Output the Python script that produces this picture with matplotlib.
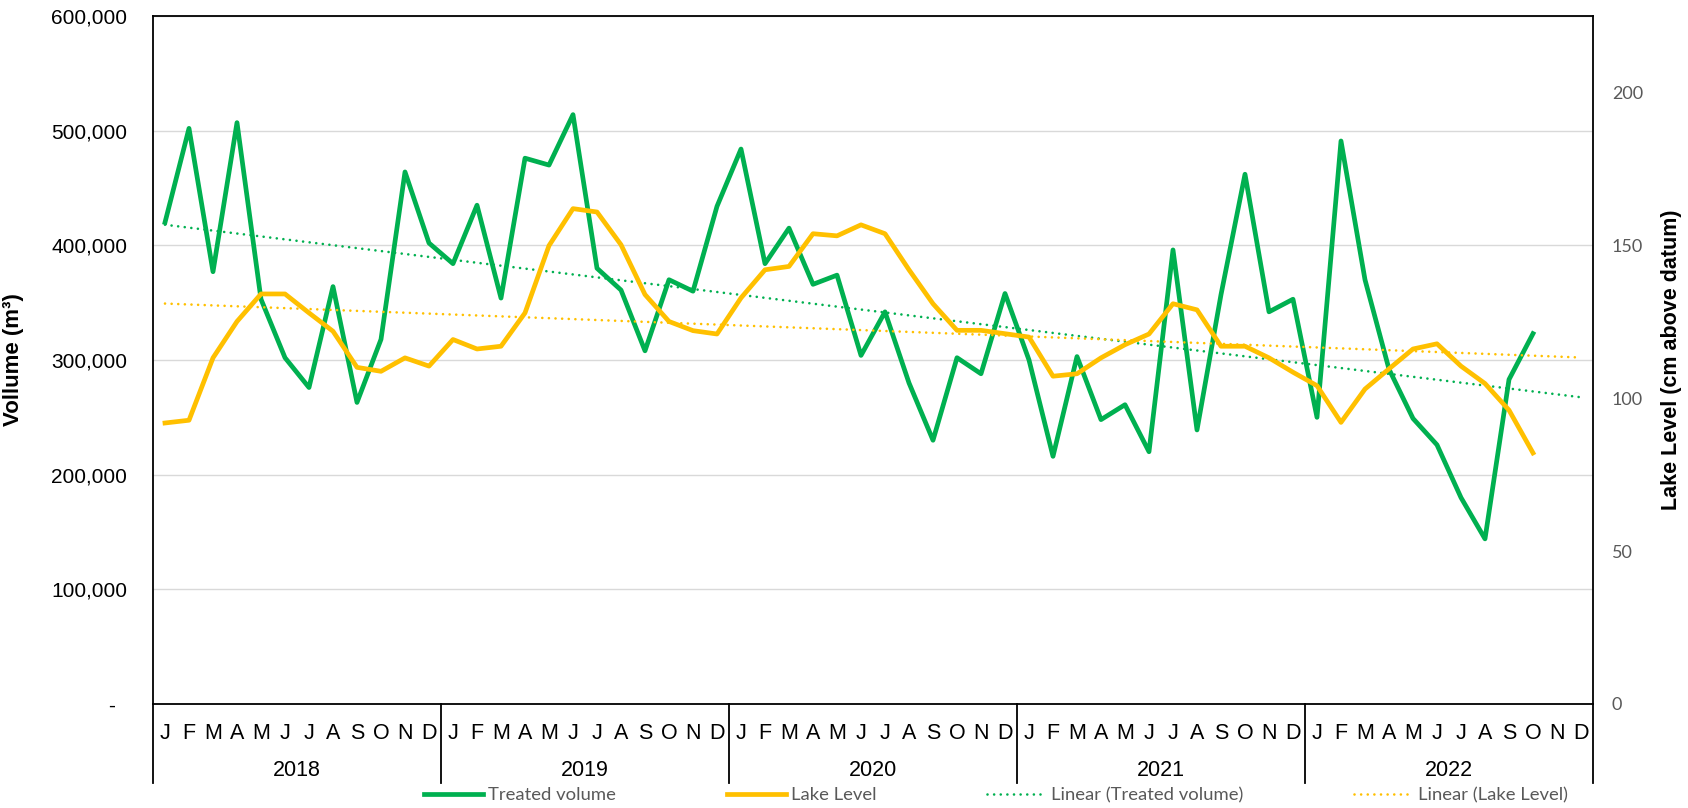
import numpy as np
import matplotlib.pyplot as plt
import matplotlib.transforms as mtransforms
from matplotlib.ticker import FuncFormatter
from matplotlib.lines import Line2D

# ---------- Data (Jan 2018 - Oct 2022) ----------
months = ["J", "F", "M", "A", "M", "J", "J", "A", "S", "O", "N", "D"]
years = ["2018", "2019", "2020", "2021", "2022"]

treated_volume = [
    420000, 502000, 377000, 507000, 353000, 302000, 276000, 364000, 263000, 318000, 464000, 402000,
    384000, 435000, 354000, 476000, 470000, 514000, 380000, 361000, 308000, 370000, 360000, 434000,
    484000, 384000, 415000, 366000, 374000, 304000, 342000, 280000, 230000, 302000, 288000, 358000,
    300000, 216000, 303000, 248000, 261000, 220000, 396000, 239000, 357000, 462000, 342000, 353000,
    250000, 491000, 370000, 292000, 249000, 226000, 180000, 144000, 283000, 323000,
]
lake_level = [
    91.9, 92.8, 113.2, 125.1, 134.1, 134.1, 127.9, 121.9, 110.1, 108.8, 113.2, 110.5,
    119.2, 116.1, 117.0, 127.9, 149.9, 162.0, 160.9, 150.2, 133.9, 125.1, 122.1, 121.0,
    132.8, 142.0, 143.1, 153.8, 153.1, 156.7, 153.8, 142.0, 130.9, 122.2, 122.2, 121.1,
    120.0, 107.2, 108.0, 113.2, 117.5, 121.0, 130.9, 128.9, 117.0, 117.0, 113.2, 108.5,
    104.1, 92.1, 103.0, 109.6, 116.1, 117.8, 110.5, 104.8, 96.1, 82.1,
]

GREEN = "#00B050"
YELLOW = "#FFC000"
GRAY = "#595959"

plt.rcParams["font.family"] = ["Liberation Sans", "DejaVu Sans"]

n_cat = len(months) * len(years)
x_all = np.arange(n_cat)
x_vol = np.arange(len(treated_volume))
x_lake = np.arange(len(lake_level))

# linear trend lines (like Excel's "Linear" trendline)
tv_fit = np.polyfit(x_vol, treated_volume, 1)
ll_fit = np.polyfit(x_lake, lake_level, 1)

fig = plt.figure(figsize=(16.88, 8.08), dpi=100)
ax = fig.add_axes([153 / 1688, 1 - 704 / 808, 1440 / 1688, 688 / 808])
ax2 = ax.twinx()

dot = (0, (0.01, 2.5))
ax.plot(x_vol, treated_volume, color=GREEN, lw=3.4, zorder=3)
ax.plot(x_all, np.polyval(tv_fit, x_all), color=GREEN, lw=1.9, linestyle=dot,
        dash_capstyle="round", zorder=2)
ax2.plot(x_lake, lake_level, color=YELLOW, lw=3.4, zorder=3)
ax2.plot(x_all, np.polyval(ll_fit, x_all), color=YELLOW, lw=1.9, linestyle=dot,
         dash_capstyle="round", zorder=2)

# ---------- primary axis ----------
ax.set_xlim(-0.5, n_cat - 0.5)
ax.set_ylim(0, 600000)
ax.set_yticks(np.arange(0, 600001, 100000))
ax.yaxis.set_major_formatter(FuncFormatter(lambda v, p: "-  " if v == 0 else f"{int(v):,}"))
ax.tick_params(axis="y", length=0, pad=18.5, labelsize=15, labelcolor="black")
ax.grid(axis="y", color="#D9D9D9", lw=1.0)
ax.set_axisbelow(True)

ax.set_xticks(x_all)
ax.set_xticklabels(months * len(years))
ax.tick_params(axis="x", length=0, pad=14, labelsize=15.5)

for s in ax.spines.values():
    s.set_color("black")
    s.set_linewidth(1.3)

ax.set_ylabel("Vollume (m³)", fontsize=16, fontweight="bold")
ax.yaxis.set_label_coords(-0.0896, 0.5)

# year labels and separators
trans = mtransforms.blended_transform_factory(ax.transData, ax.transAxes)
for k, yr in enumerate(years):
    ax.text(5.5 + 12 * k, -0.096, yr, transform=trans, ha="center", va="center", fontsize=15.5)
for k in range(len(years) + 1):
    ax.plot([-0.5 + 12 * k] * 2, [0, -0.115], transform=trans, color="black", lw=1.3,
            clip_on=False)

# ---------- secondary axis ----------
ax2.set_ylim(0, 225)
ax2.set_yticks([0, 50, 100, 150, 200])
ax2.tick_params(axis="y", length=0, pad=13.5, labelsize=13, labelcolor=GRAY)
for lbl in ax2.get_yticklabels():
    lbl.set_family(["Lato", "DejaVu Sans"])
for s in ax2.spines.values():
    s.set_visible(False)
ax2.set_ylabel("Lake Level (cm above datum)", fontsize=15.5, fontweight="bold", rotation=90)
ax2.yaxis.set_label_coords(1.0472, 0.5)

# ---------- legend ----------
handles = [
    Line2D([], [], color=GREEN, lw=3.4),
    Line2D([], [], color=YELLOW, lw=3.4),
    Line2D([], [], color=GREEN, lw=1.9, linestyle=dot, dash_capstyle="round"),
    Line2D([], [], color=YELLOW, lw=1.9, linestyle=dot, dash_capstyle="round"),
]
labels = ["Treated volume", "Lake Level", "Linear (Treated volume)", "Linear (Lake Level)"]
leg = fig.legend(handles, labels, loc="center", bbox_to_anchor=(0.590, 0.016), ncol=4,
                 frameon=False, handlelength=3.2, handletextpad=0.25,
                 columnspacing=6.0, borderpad=0, prop={"family": ["Lato", "DejaVu Sans"], "size": 13.3})
for t in leg.get_texts():
    t.set_color(GRAY)

fig.savefig("out.png", dpi=100)
